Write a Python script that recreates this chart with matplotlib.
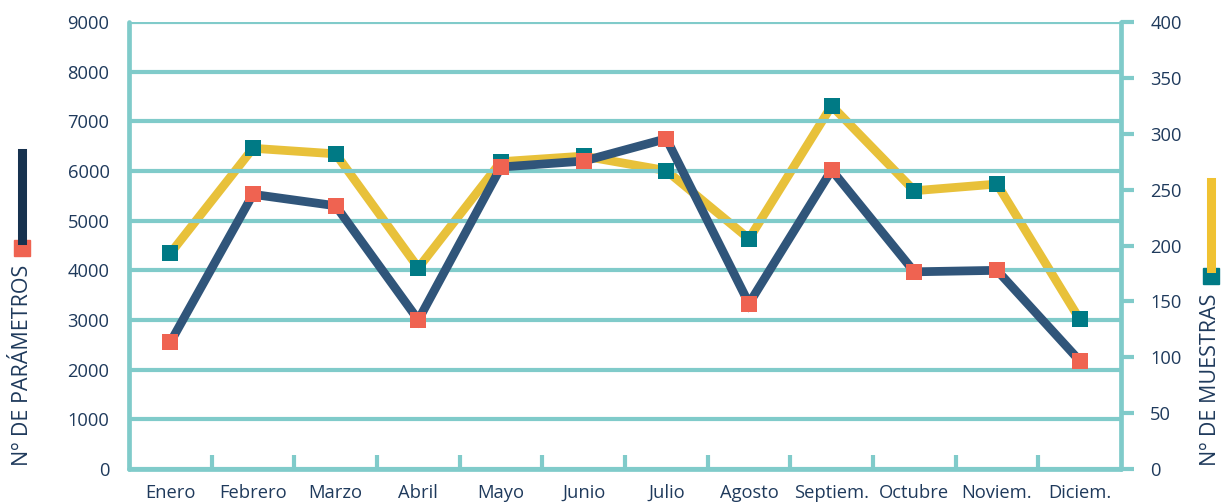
import matplotlib.pyplot as plt
from matplotlib.lines import Line2D
from matplotlib.patches import Rectangle

meses = ['Enero', 'Febrero', 'Marzo', 'Abril', 'Mayo', 'Junio', 'Julio',
         'Agosto', 'Septiem.', 'Octubre', 'Noviem.', 'Diciem.']
parametros = [2550, 5530, 5300, 3000, 6080, 6200, 6650, 3330, 6020, 3970, 4000, 2180]
muestras = [193, 287, 282, 180, 275, 280, 267, 206, 325, 249, 255, 134]

NAVY = '#30557a'
RED = '#ef6351'
TEAL = '#007a85'
YELLOW = '#e8c13a'
GRID = '#80cbca'
TEXT = '#1f3a5c'

plt.rcParams['font.family'] = ['Open Sans', 'DejaVu Sans']

W, H = 1223, 503
fig = plt.figure(figsize=(W / 100, H / 100), dpi=100)
ax = fig.add_axes([129 / W, 1 - 469 / H, (1121 - 129) / W, (469 - 22) / H])
ax2 = ax.twinx()

x = list(range(len(meses)))

# gridlines follow the left (parámetros) scale
ax.set_ylim(0, 9000)
ax.set_yticks(range(0, 9001, 1000))
ax.grid(True, axis='y', color=GRID, linewidth=3.0, zorder=0)
ax.set_axisbelow(True)
ax.set_xlim(-0.5, len(meses) - 0.5)
ax.set_xticks(x)
ax.set_xticklabels(meses)
ax.set_xticks([i + 0.5 for i in range(len(meses) - 1)], minor=True)
ax.tick_params(axis='x', which='major', length=0, pad=10.5, labelsize=13.2, colors=TEXT)
ax.tick_params(axis='x', which='minor', direction='in', length=10, width=3, color=GRID)
ax.tick_params(axis='y', length=0, pad=14, labelsize=13.2, colors=TEXT)

ax2.set_ylim(0, 400)
ax2.set_yticks(range(0, 401, 50))
ax2.tick_params(axis='y', direction='out', length=9, width=3.0, color=GRID,
                pad=12, labelsize=13.2, labelcolor=TEXT)

for a in (ax, ax2):
    for s in a.spines.values():
        s.set_visible(False)
ax.spines['left'].set_visible(True)
ax.spines['bottom'].set_visible(True)
ax2.spines['right'].set_visible(True)
for s in (ax.spines['left'], ax.spines['bottom'], ax2.spines['right']):
    s.set_color(GRID)
    s.set_linewidth(3.4)
    s.set_capstyle('round')

# yellow muestras line sits under the navy parámetros line
ax.set_zorder(2)
ax.patch.set_visible(False)
ax2.set_zorder(1)
ax2.plot(x, muestras, color=YELLOW, linewidth=6.3, solid_joinstyle='miter', zorder=2)
ax.plot(x, parametros, color=NAVY, linewidth=6.3, solid_joinstyle='miter', zorder=3)

# markers above both lines
top = fig.add_axes(ax.get_position(), sharex=ax)
top.set_ylim(0, 400)
top.axis('off')
top.set_zorder(3)
top.plot(x, muestras, linestyle='none', marker='s', markersize=11.5,
         color=TEAL, markeredgewidth=0)
top.plot(x, [v * 400 / 9000 for v in parametros], linestyle='none', marker='s',
         markersize=11.5, color=RED, markeredgewidth=0)


def px(xp, yp):
    return xp / W, 1 - yp / H


# left key: navy bar, red square, vertical title
fig.add_artist(Line2D(*zip(px(22, 153), px(22, 240)), color='#17324f', linewidth=6.5,
                      transform=fig.transFigure))
fig.add_artist(Rectangle(px(14, 256), 16 / W, 16 / H, color=RED, transform=fig.transFigure))
fig.text(*px(22, 466), 'Nº DE PARÁMETROS', rotation=90, ha='center', va='bottom',
         fontsize=15.5, color=TEXT)

# right key: yellow bar, teal square, vertical title
fig.add_artist(Line2D(*zip(px(1211, 182), px(1211, 268)), color='#f0c232', linewidth=6.5,
                      transform=fig.transFigure))
fig.add_artist(Rectangle(px(1203, 284), 16 / W, 16 / H, color=TEAL, transform=fig.transFigure))
fig.text(*px(1211, 466), 'Nº DE MUESTRAS', rotation=90, ha='center', va='bottom',
         fontsize=15.5, color=TEXT)

fig.savefig('out.png', dpi=100, facecolor='white')
